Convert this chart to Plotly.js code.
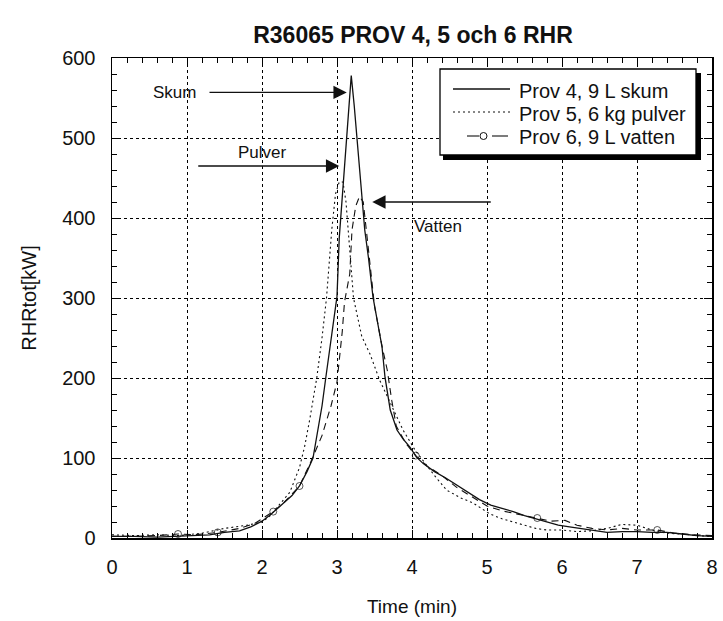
<!DOCTYPE html>
<html>
<head>
<meta charset="utf-8">
<script src="https://cdn.plot.ly/plotly-3.0.1.min.js"></script>
<style>
  html, body { margin: 0; padding: 0; background: #fff; }
  #chart { width: 723px; height: 621px; }
</style>
</head>
<body>
<div id="chart"></div>
<script>
// Heat release rate, tests 4-6 (time in minutes, RHR in kW)
const skumTime = [0, 0.3, 0.6, 0.9, 1.1, 1.3, 1.5, 1.7, 1.85, 2.0, 2.1, 2.2, 2.3, 2.4, 2.5, 2.6, 2.68, 2.75, 2.8, 2.85, 2.9, 2.95, 3.0, 3.03, 3.1, 3.15, 3.19, 3.23, 3.27, 3.32, 3.37, 3.42, 3.48, 3.54, 3.6, 3.64, 3.71, 3.8, 3.88, 3.97, 4.06, 4.15, 4.3, 4.45, 4.6, 4.75, 4.9, 5.05, 5.2, 5.35, 5.5, 5.65, 5.8, 5.95, 6.1, 6.25, 6.4, 6.6, 6.8, 7.0, 7.2, 7.4, 7.6, 7.8, 8.0];
const skumRHR  = [2, 2, 1, 2, 3, 4, 7, 9, 14, 21, 28, 36, 44, 53, 65, 83, 100, 135, 165, 200, 232, 268, 302, 375, 465, 530, 578, 540, 495, 430, 385, 350, 301, 270, 239, 201, 160, 135, 124, 114, 101, 93, 83, 75, 66, 57, 48, 41, 37, 33, 28, 24, 20, 16, 14, 12, 10, 7, 8, 8, 7, 7, 5, 3, 2];

const pulverTime = [0, 0.3, 0.6, 0.9, 1.2, 1.5, 1.8, 2.0, 2.1, 2.24, 2.37, 2.5, 2.57, 2.64, 2.73, 2.8, 2.86, 2.93, 2.98, 3.03, 3.08, 3.12, 3.15, 3.22, 3.33, 3.44, 3.57, 3.73, 3.88, 4.04, 4.11, 4.3, 4.46, 4.65, 4.81, 5.04, 5.2, 5.35, 5.5, 5.65, 5.8, 6.0, 6.2, 6.4, 6.6, 6.8, 7.0, 7.2, 7.4, 7.6, 7.8, 8.0];
const pulverRHR  = [4, 3, 4, 3, 6, 12, 16, 20, 27, 42, 57, 88, 115, 150, 200, 250, 300, 385, 430, 445, 445, 420, 385, 300, 252, 230, 197, 164, 135, 110, 101, 78, 60, 50, 44, 30, 24, 20, 16, 12, 10, 10, 8, 9, 12, 17, 16, 10, 6, 5, 3, 2];

const vattenTime = [0, 0.3, 0.6, 0.88, 1.1, 1.41, 1.7, 1.9, 2.15, 2.3, 2.5, 2.65, 2.8, 2.92, 3.0, 3.07, 3.1, 3.17, 3.2, 3.25, 3.3, 3.35, 3.42, 3.5, 3.6, 3.67, 3.73, 3.79, 3.92, 4.05, 4.2, 4.4, 4.6, 4.8, 5.0, 5.2, 5.45, 5.67, 5.85, 6.04, 6.2, 6.4, 6.6, 6.8, 7.0, 7.27, 7.5, 7.75, 8.0];
const vattenRHR  = [2, 2, 3, 5, 4, 7, 12, 18, 33, 45, 65, 95, 128, 165, 195, 258, 295, 330, 385, 415, 427, 420, 360, 290, 240, 210, 172, 140, 118, 103, 90, 78, 63, 52, 40, 34, 29, 25, 21, 22, 16, 12, 10, 12, 10, 10, 6, 4, 3];
// samples of the water test that carry a circle marker
const vattenMarkerIdx = [3, 5, 8, 10, 29, 37, 45];

const seriesNames = ['Prov 4, 9 L skum', 'Prov 5, 6 kg pulver', 'Prov 6, 9 L vatten'];

const FONT = 'Liberation Sans, Arial, Helvetica, sans-serif';
const INK = '#111';

const traces = [
  {
    x: skumTime, y: skumRHR, name: seriesNames[0], type: 'scatter', mode: 'lines',
    line: { color: INK, width: 1.3 }
  },
  {
    x: pulverTime, y: pulverRHR, name: seriesNames[1], type: 'scatter', mode: 'lines',
    line: { color: INK, width: 1.1, dash: '2px,3px' }
  },
  {
    x: vattenTime, y: vattenRHR, name: seriesNames[2], type: 'scatter', mode: 'lines+markers',
    line: { color: INK, width: 1.1, dash: '7px,5px' },
    marker: {
      symbol: 'circle-open', color: INK, line: { width: 1, color: INK },
      size: vattenTime.map((_, i) => vattenMarkerIdx.includes(i) ? 7 : 0)
    }
  }
];

const axisCommon = {
  showline: true, linecolor: '#000', linewidth: 1.5, mirror: 'ticks',
  ticks: 'inside', ticklen: 8, tickwidth: 1, tickcolor: '#000',
  showgrid: true, gridcolor: '#000', gridwidth: 1, griddash: 'dot',
  zeroline: false, fixedrange: true,
  tickfont: { family: FONT, size: 20, color: INK }
};

// Legend box, drawn in paper coordinates: a framed panel with a drop shadow
const M = { l: 112, r: 11, t: 58, b: 83 };
const W = 723, H = 621;
const plotW = W - M.l - M.r, plotH = H - M.t - M.b;
const px = v => (v - M.l) / plotW;            // page x -> paper x
const py = v => (H - M.b - v) / plotH;        // page y -> paper y

const legendBox = { left: 440, top: 69, right: 696, bottom: 155 };
const legendRows = [91, 114, 137];
const sampleX = [453, 510];
const textX = 517;

const shapes = [
  { type: 'rect', xref: 'paper', yref: 'paper', layer: 'above',
    x0: px(legendBox.left + 3), x1: px(legendBox.right + 5),
    y0: py(legendBox.bottom + 5), y1: py(legendBox.top + 4),
    fillcolor: '#000', line: { width: 0 } },
  { type: 'rect', xref: 'paper', yref: 'paper', layer: 'above',
    x0: px(legendBox.left), x1: px(legendBox.right),
    y0: py(legendBox.bottom), y1: py(legendBox.top),
    fillcolor: '#fff', line: { color: '#000', width: 1.3 } },
  // sample: solid
  { type: 'line', xref: 'paper', yref: 'paper', layer: 'above',
    x0: px(sampleX[0]), x1: px(sampleX[1]), y0: py(legendRows[0] - 2), y1: py(legendRows[0] - 2),
    line: { color: INK, width: 1.3 } },
  // sample: dotted
  { type: 'line', xref: 'paper', yref: 'paper', layer: 'above',
    x0: px(sampleX[0]), x1: px(sampleX[1]), y0: py(legendRows[1] - 2), y1: py(legendRows[1] - 2),
    line: { color: INK, width: 1.1, dash: '2px,3px' } },
  // sample: dashed with circle
  { type: 'line', xref: 'paper', yref: 'paper', layer: 'above',
    x0: px(467), x1: px(479), y0: py(legendRows[2] - 1), y1: py(legendRows[2] - 1),
    line: { color: INK, width: 1.1 } },
  { type: 'line', xref: 'paper', yref: 'paper', layer: 'above',
    x0: px(492), x1: px(508), y0: py(legendRows[2] - 1), y1: py(legendRows[2] - 1),
    line: { color: INK, width: 1.1 } },
  { type: 'circle', xref: 'paper', yref: 'paper', layer: 'above',
    x0: px(480), x1: px(487), y0: py(legendRows[2] + 2.5), y1: py(legendRows[2] - 4.5),
    fillcolor: '#fff', line: { color: INK, width: 1 } }
];

const annotations = seriesNames.map((name, i) => ({
  xref: 'paper', yref: 'paper', x: px(textX), y: py(legendRows[i]),
  xanchor: 'left', yanchor: 'middle', text: name, showarrow: false,
  font: { family: FONT, size: 20, color: INK }
}));

const labelFont = { family: FONT, size: 17, color: INK };
const arrowStyle = { showarrow: true, arrowhead: 2, arrowsize: 1.9, arrowwidth: 1.4, arrowcolor: INK,
                     xref: 'x', yref: 'y', axref: 'x', ayref: 'y', text: '' };
annotations.push(
  { x: 0.83, y: 557, xref: 'x', yref: 'y', text: 'Skum', showarrow: false, font: labelFont },
  { x: 2.0, y: 482, xref: 'x', yref: 'y', text: 'Pulver', showarrow: false, font: labelFont },
  { x: 4.34, y: 389, xref: 'x', yref: 'y', text: 'Vatten', showarrow: false, font: labelFont },
  Object.assign({ x: 3.13, y: 557, ax: 1.28, ay: 557 }, arrowStyle),
  Object.assign({ x: 3.03, y: 465, ax: 1.13, ay: 465 }, arrowStyle),
  Object.assign({ x: 3.47, y: 420, ax: 5.07, ay: 420 }, arrowStyle)
);

const layout = {
  width: W, height: H,
  margin: M,
  paper_bgcolor: '#fff', plot_bgcolor: '#fff',
  font: { family: FONT, color: INK },
  showlegend: false,
  title: {
    text: '<b>R36065 PROV 4, 5 och 6 RHR</b>',
    font: { family: FONT, size: 23, color: INK },
    xref: 'container', x: 413 / W, xanchor: 'center',
    yref: 'container', y: (H - 35) / H, yanchor: 'middle'
  },
  xaxis: Object.assign({}, axisCommon, {
    range: [0, 8], dtick: 1, tick0: 0,
    minor: { dtick: 0.2, ticks: 'inside', ticklen: 5, tickcolor: '#000', showgrid: false },
    ticklabelstandoff: 10,
    title: { text: 'Time (min)', font: { family: FONT, size: 19, color: INK }, standoff: 23 }
  }),
  yaxis: Object.assign({}, axisCommon, {
    range: [0, 600], dtick: 100, tick0: 0,
    minor: { dtick: 20, ticks: 'inside', ticklen: 5, tickcolor: '#000', showgrid: false },
    ticklabelstandoff: 11,
    title: { text: 'RHRtot[kW]', font: { family: FONT, size: 20, color: INK }, standoff: 20 }
  }),
  shapes: shapes,
  annotations: annotations
};

Plotly.newPlot('chart', traces, layout, { displayModeBar: false, staticPlot: true });
</script>
</body>
</html>
